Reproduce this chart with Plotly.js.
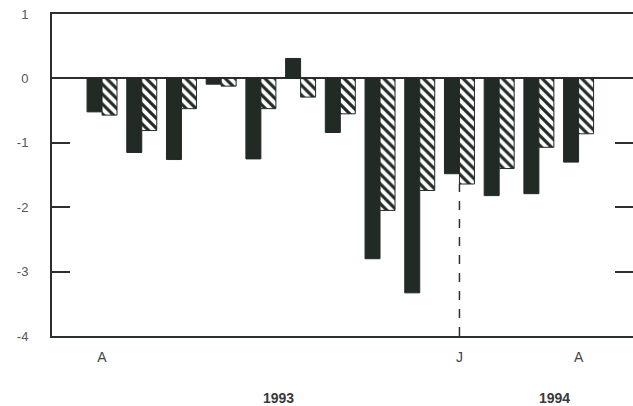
<!DOCTYPE html>
<html><head><meta charset="utf-8">
<script src="https://cdn.plot.ly/plotly-3.0.1.min.js"></script>
<style>html,body{margin:0;padding:0;background:#fff;}#chart{width:633px;height:406px;}</style>
</head><body><div id="chart"></div>
<script>
// Monthly, April 1993 – April 1994
const months = ['Apr 1993','May 1993','Jun 1993','Jul 1993','Aug 1993','Sep 1993','Oct 1993','Nov 1993','Dec 1993','Jan 1994','Feb 1994','Mar 1994','Apr 1994'];
const solidValues   = [-0.52, -1.15, -1.26, -0.09, -1.25, 0.31, -0.84, -2.80, -3.33, -1.48, -1.82, -1.79, -1.30];
const hatchedValues = [-0.57, -0.81, -0.47, -0.12, -0.47, -0.29, -0.55, -2.05, -1.74, -1.64, -1.40, -1.07, -0.86];
const tickMonths = ['Apr 1993','Jan 1994','Apr 1994'];
const tickLabels = ['A','J','A'];
const yTicks = [1, 0, -1, -2, -3, -4];
const yearLabels = ['1993','1994'];
const yearPositions = [4.45, 11.4];
const markerMonth = 'Jan 1994';

const idx = months.map((m,i)=>i);
const dark = '#222a26';
const axisCol = '#2b302c';

const traces = [
  {type:'bar', x: idx, y: solidValues, marker:{color: dark, line:{color: dark, width:1}}, hoverinfo:'skip'},
  {type:'bar', x: idx, y: hatchedValues, marker:{color:'#ffffff', line:{color: dark, width:1},
     pattern:{shape:'\\', fgcolor: dark, bgcolor:'#ffffff', size:7, solidity:0.45}}, hoverinfo:'skip'},
  {type:'scatter', x:[0], y:[0], yaxis:'y2', mode:'markers', marker:{opacity:0}, hoverinfo:'skip', showlegend:false}
];

const jIdx = months.indexOf(markerMonth);
const layout = {
  width: 633, height: 406,
  margin: {l:52, r:0, t:14, b:70},
  paper_bgcolor:'#ffffff', plot_bgcolor:'#ffffff',
  showlegend:false, barmode:'group', bargap:0.245, bargroupgap:0,
  font:{family:'"Liberation Sans", Arial, sans-serif', size:12, color:'#555'},
  xaxis:{range:[-1.26, 13.37], tickvals: tickMonths.map(m=>months.indexOf(m)), ticktext: tickLabels,
    ticks:'', showgrid:false, zeroline:false, showline:true, mirror:true, linecolor:axisCol, linewidth:2,
    ticklabelstandoff:7, tickfont:{size:14, color:'#444'}},
  yaxis:{range:[-4,1], tickvals: yTicks, ticktext: yTicks.map(String), ticks:'inside', ticklen:18, tickwidth:2, tickcolor:axisCol,
    showgrid:false, zeroline:true, zerolinecolor:axisCol, zerolinewidth:2, showline:true, linecolor:axisCol, linewidth:2,
    ticklabelstandoff:19, tickfont:{size:13, color:'#555'}},
  yaxis2:{range:[-4,1], overlaying:'y', side:'right', tickvals: yTicks.slice(2,5), ticks:'inside', ticklen:18, tickwidth:2,
    tickcolor:axisCol, showticklabels:false, showgrid:false, zeroline:false, showline:false},
  shapes:[{type:'line', xref:'x', yref:'y', x0:jIdx, x1:jIdx, y0:-4, y1:hatchedValues[jIdx],
    line:{color:axisCol, width:1.5, dash:'dash'}, layer:'below'}],
  annotations: yearLabels.map((t,i)=>({text:'<b>'+t+'</b>', x:yearPositions[i], xref:'x', y:-0.193, yref:'paper',
    showarrow:false, yanchor:'middle', font:{size:14, color:'#3a3a3a'}}))
};
Plotly.newPlot('chart', traces, layout, {staticPlot:true, displayModeBar:false});
</script></body></html>
